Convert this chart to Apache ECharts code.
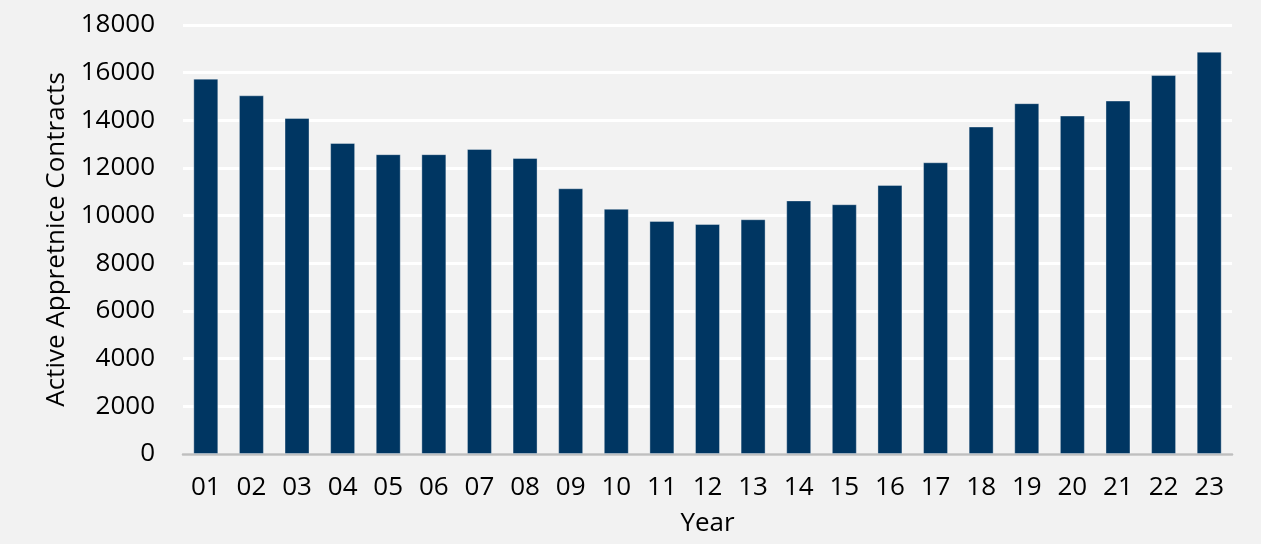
<!DOCTYPE html>
<html>
<head>
<meta charset="utf-8">
<script src="https://cdn.jsdelivr.net/npm/echarts@6/dist/echarts.min.js"></script>
<style>
  html, body { margin: 0; padding: 0; background: #f2f2f2; }
  #main { width: 1261px; height: 544px; }
</style>
</head>
<body>
<div id="main"></div>
<script>
// years shown as two-digit labels
var years = ["01", "02", "03", "04", "05", "06", "07", "08", "09", "10", "11", "12",
  "13", "14", "15", "16", "17", "18", "19", "20", "21", "22", "23"];
// active apprentice contracts per year
var contracts = [15750, 15050, 14100, 13050, 12580, 12580, 12800, 12420, 11150, 10290, 9780, 9650,
  9850, 10640, 10480, 11290, 12240, 13740, 14720, 14200, 14830, 15900, 16880];
var yTicks = { min: 0, max: 18000, interval: 2000 };

var myChart = echarts.init(document.getElementById("main"));
var font = "Open Sans";

var option = {
  backgroundColor: "#f2f2f2",
  animation: false,
  grid: { left: 183, right: 29, top: 25, bottom: 90 },
  xAxis: [
    {
      type: "category",
      data: years,
      name: "Year",
      nameLocation: "middle",
      nameGap: 57,
      nameTextStyle: { fontFamily: font, fontSize: 26, color: "#000" },
      axisLine: { lineStyle: { color: "#bfbfbf", width: 2.5 } },
      axisTick: { length: 9, lineStyle: { color: "#bfbfbf", width: 2 } },
      axisLabel: { margin: 21, fontFamily: font, fontSize: 26, color: "#000" },
    },
    {
      // short ticks at the middle of each category
      type: "category",
      data: years,
      position: "bottom",
      axisLine: { show: false },
      axisTick: { alignWithLabel: true, length: 6, lineStyle: { color: "#bfbfbf", width: 2 } },
      axisLabel: { show: false },
    },
  ],
  yAxis: {
    type: "value",
    min: yTicks.min,
    max: yTicks.max,
    interval: yTicks.interval,
    name: "Active Appretnice Contracts",
    nameLocation: "middle",
    nameGap: 112,
    nameTextStyle: { fontFamily: font, fontSize: 26, color: "#000" },
    axisLine: { show: false },
    axisTick: { show: false },
    axisLabel: {
      margin: 28, fontFamily: font, fontSize: 26, color: "#000",
      formatter: function (v) { return String(v); },
    },
    splitLine: { lineStyle: { color: "#ffffff", width: 3 } },
  },
  series: [
    {
      type: "bar",
      data: contracts,
      barWidth: 25,
      itemStyle: {
        color: "#003662",
        borderColor: "rgba(255,255,255,0.35)",
        borderWidth: 1,
      },
    },
  ],
};

myChart.setOption(option);
</script>
</body>
</html>
